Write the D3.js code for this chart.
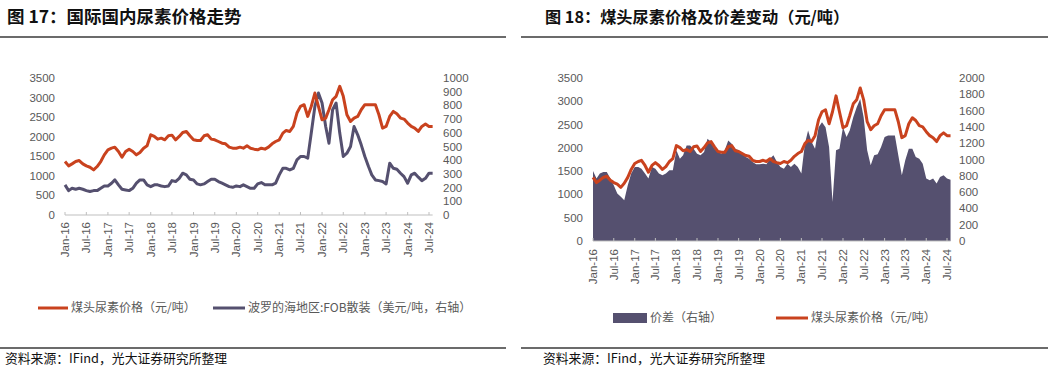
<!DOCTYPE html>
<html>
<head>
<meta charset="utf-8">
<script src="https://cdn.jsdelivr.net/npm/d3@7"></script>
<style>
  body { margin: 0; background: #fff; }
  svg { display: block; font-family: "Liberation Sans", Arial, sans-serif; }
  .cjk { font-family: "Noto Sans CJK SC", sans-serif; }
</style>
</head>
<body>
<svg width="1054" height="369"></svg>
<script>
// monthly readings, Jan 2016 .. Aug 2024
const startMonth = new Date(2016, 0, 1);
const tickLabels = ["Jan-16","Jul-16","Jan-17","Jul-17","Jan-18","Jul-18","Jan-19","Jul-19","Jan-20",
                    "Jul-20","Jan-21","Jul-21","Jan-22","Jul-22","Jan-23","Jul-23","Jan-24","Jul-24"];

// 煤头尿素价格 (元/吨)
const coalUrea = [
  1366,1255,1306,1366,1391,1306,1255,1220,1152,1238,1366,1537,
  1665,1707,1733,1622,1477,1622,1682,1622,1537,1596,1707,1767,
  2049,2006,1938,1963,1921,2023,2040,1921,2006,2108,2134,2023,
  1921,1904,1904,2023,2049,1938,1921,1878,1835,1818,1733,1707,
  1707,1733,1707,1767,1707,1682,1665,1707,1682,1733,1818,1878,
  1921,2092,2160,2134,2262,2604,2775,2817,2518,2775,3116,2775,
  2433,2476,2689,2945,3031,3287,3031,2561,2390,2476,2518,2689,
  2817,2817,2817,2817,2561,2219,2262,2518,2646,2587,2476,2450,
  2348,2262,2219,2134,2262,2322,2262,2262
];

// 波罗的海地区:FOB散装 (美元/吨, 右轴)
const balticFob = [
  220,178,195,188,195,188,178,171,178,178,195,212,
  212,232,256,220,188,183,178,195,232,256,256,220,
  207,220,220,212,207,212,251,244,268,305,293,261,
  256,227,220,227,244,261,261,244,232,220,207,202,
  212,207,220,207,195,195,227,237,220,220,220,232,
  293,341,341,329,341,402,427,427,415,598,793,890,
  817,646,524,768,817,598,427,451,500,646,585,512,
  427,354,293,256,251,244,227,378,341,334,305,280,
  232,293,305,276,251,268,305,305
];

// 价差 (右轴)
const spread = [
  859,766,827,847,847,766,684,582,542,501,684,827,
  908,908,888,827,766,908,888,827,806,827,868,868,
  1112,1010,1051,1173,1173,1132,1071,1051,1092,1254,1214,1132,
  1092,1071,1112,1234,1193,1132,1112,1071,1030,1010,969,941,
  941,949,941,1010,1051,969,908,888,949,908,949,908,
  827,1193,1356,1214,1132,1397,1458,1397,1153,480,1112,1132,
  1397,1275,1356,1519,1641,1743,1519,1112,929,1051,1063,1153,
  1275,1295,1295,1295,1051,806,990,1132,1132,1030,1010,949,
  766,745,766,705,786,806,766,753
];

const RED = "#c9421e";
const NAVY = "#55506f";
const GREY_TXT = "#595959";

const months = coalUrea.map((d, i) => d3.timeMonth.offset(startMonth, i));
const tickDates = tickLabels.map((d, i) => d3.timeMonth.offset(startMonth, i * 6));

const svg = d3.select("svg");

// ---------- frame: titles, rules, sources ----------
function frame(x0, x1, tx, title, titleSize) {
  svg.append("text").attr("class", "cjk")
    .attr("x", tx).attr("y", 23)
    .attr("font-size", titleSize).attr("font-weight", "bold").attr("fill", "#111")
    .text(title);
  svg.append("line").attr("x1", x0).attr("x2", x1).attr("y1", 37).attr("y2", 37)
    .attr("stroke", "#3a3a3a").attr("stroke-width", 1.5);
  svg.append("line").attr("x1", x0).attr("x2", x1).attr("y1", 348).attr("y2", 348)
    .attr("stroke", "#3a3a3a").attr("stroke-width", 1.5);
  svg.append("text").attr("class", "cjk")
    .attr("x", tx - 2).attr("y", 363)
    .attr("font-size", 12.8).attr("fill", "#111")
    .text("资料来源：IFind，光大证券研究所整理");
}
frame(0, 506, 7, "图 17：国际国内尿素价格走势", 17.5);
frame(521, 1048, 545, "图 18：煤头尿素价格及价差变动（元/吨）", 16.2);

// ---------- shared axis helpers ----------
function xAxis(g, x, y0, labelTop) {
  g.append("line").attr("x1", x.range()[0]).attr("x2", x(months[months.length - 1]))
    .attr("y1", y0).attr("y2", y0).attr("stroke", "#bfbfbf").attr("stroke-width", 1);
  g.selectAll(".xt").data(tickDates).enter().append("line")
    .attr("x1", d => x(d)).attr("x2", d => x(d))
    .attr("y1", y0).attr("y2", y0 - 3)
    .attr("stroke", "#bfbfbf");
  g.selectAll(".xl").data(tickDates).enter().append("text")
    .attr("transform", d => `translate(${x(d) + 4},${labelTop}) rotate(-90)`)
    .attr("text-anchor", "end")
    .attr("font-size", 11.5).attr("fill", GREY_TXT)
    .text((d, i) => tickLabels[i]);
}

function yLabels(g, y, ticks, xPos, anchor) {
  g.selectAll(null).data(ticks).enter().append("text")
    .attr("x", xPos).attr("y", d => y(d) + 4)
    .attr("text-anchor", anchor)
    .attr("font-size", 11.5).attr("fill", GREY_TXT)
    .text(d => d);
}

// ---------- chart 17 ----------
{
  const g = svg.append("g");
  const x = d3.scaleTime().domain([tickDates[0], tickDates[tickDates.length - 1]]).range([65, 429]);
  const yL = d3.scaleLinear().domain([0, 3500]).range([215, 78]);
  const yR = d3.scaleLinear().domain([0, 1000]).range([215, 78]);

  xAxis(g, x, 215, 222);
  yLabels(g, yL, d3.range(0, 3501, 500), 55, "end");
  yLabels(g, yR, d3.range(0, 1001, 100), 443, "start");

  g.append("path").datum(balticFob)
    .attr("fill", "none").attr("stroke", NAVY).attr("stroke-width", 3)
    .attr("stroke-linejoin", "round")
    .attr("d", d3.line().x((d, i) => x(months[i])).y(d => yR(d)));
  g.append("path").datum(coalUrea)
    .attr("fill", "none").attr("stroke", RED).attr("stroke-width", 3)
    .attr("stroke-linejoin", "round")
    .attr("d", d3.line().x((d, i) => x(months[i])).y(d => yL(d)));

  // legend
  const lg = g.append("g").attr("class", "cjk").attr("font-size", 12).attr("fill", GREY_TXT);
  lg.append("line").attr("x1", 38).attr("x2", 68).attr("y1", 308).attr("y2", 308)
    .attr("stroke", RED).attr("stroke-width", 3);
  lg.append("text").attr("x", 71).attr("y", 312).text("煤头尿素价格（元/吨）");
  lg.append("line").attr("x1", 213).attr("x2", 245).attr("y1", 308).attr("y2", 308)
    .attr("stroke", NAVY).attr("stroke-width", 3);
  lg.append("text").attr("x", 248).attr("y", 312).text("波罗的海地区:FOB散装（美元/吨，右轴）");
}

// ---------- chart 18 ----------
{
  const g = svg.append("g");
  const x = d3.scaleTime().domain([tickDates[0], tickDates[tickDates.length - 1]]).range([593, 947]);
  const yL = d3.scaleLinear().domain([0, 3500]).range([241, 78]);
  const yR = d3.scaleLinear().domain([0, 2000]).range([241, 78]);

  g.append("path").datum(spread)
    .attr("fill", NAVY)
    .attr("d", d3.area().x((d, i) => x(months[i])).y0(yR(0)).y1(d => yR(d)));

  xAxis(g, x, 241, 249);
  yLabels(g, yL, d3.range(0, 3501, 500), 583, "end");
  yLabels(g, yR, d3.range(0, 2001, 200), 959, "start");

  g.append("path").datum(coalUrea)
    .attr("fill", "none").attr("stroke", RED).attr("stroke-width", 3)
    .attr("stroke-linejoin", "round")
    .attr("d", d3.line().x((d, i) => x(months[i])).y(d => yL(d)));

  const lg = g.append("g").attr("class", "cjk").attr("font-size", 12).attr("fill", GREY_TXT);
  lg.append("rect").attr("x", 613).attr("y", 313).attr("width", 34).attr("height", 10)
    .attr("fill", NAVY);
  lg.append("text").attr("x", 650).attr("y", 322).text("价差（右轴）");
  lg.append("line").attr("x1", 776).attr("x2", 808).attr("y1", 318).attr("y2", 318)
    .attr("stroke", RED).attr("stroke-width", 3);
  lg.append("text").attr("x", 811).attr("y", 322).text("煤头尿素价格（元/吨）");
}
</script>
</body>
</html>
